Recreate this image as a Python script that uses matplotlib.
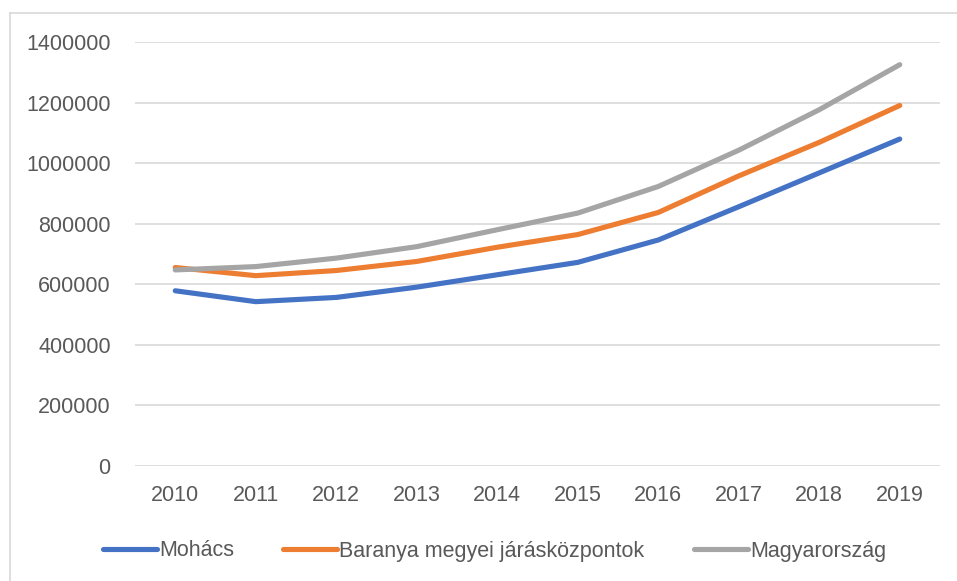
import matplotlib.pyplot as plt
from matplotlib.lines import Line2D

years = ['2010', '2011', '2012', '2013', '2014', '2015', '2016', '2017', '2018', '2019']
mohacs = [578000, 542000, 556000, 590000, 631000, 672000, 746000, 856000, 968000, 1080000]
baranya = [655000, 628000, 645000, 675000, 722000, 764000, 837000, 958000, 1069000, 1191000]
magyar = [647000, 658000, 686000, 724000, 780000, 835000, 923000, 1043000, 1177000, 1326000]
names = ['Mohács', 'Baranya megyei járásközpontok', 'Magyarország']
colors = ['#4472C4', '#ED7D31', '#A5A5A5']

plt.rcParams['font.family'] = ['Liberation Sans', 'DejaVu Sans']

W, H = 957, 581
fig = plt.figure(figsize=(W / 100, H / 100), dpi=100)
ax = fig.add_axes([135 / W, 1 - 465.5 / H, (940 - 135) / W, (465.5 - 42.3) / H])

x = range(len(years))
for vals, name, c in zip([mohacs, baranya, magyar], names, colors):
    ax.plot(x, vals, color=c, lw=3.7, solid_capstyle='round', label=name)

ax.set_xlim(-0.5, len(years) - 0.5)
ax.set_ylim(0, 1400000)
ax.set_yticks(range(0, 1400001, 200000))
ax.set_yticklabels([str(v) for v in range(0, 1400001, 200000)])
ax.set_xticks(list(x))
ax.set_xticklabels(years)
ax.grid(axis='y', color='#D9D9D9', lw=1.2)
ax.set_axisbelow(True)
for s in ax.spines.values():
    s.set_visible(False)
ax.tick_params(axis='both', length=0, labelsize=15.5, labelcolor='#595959')
ax.tick_params(axis='y', pad=17.5)
ax.tick_params(axis='x', pad=14)

leg = fig.legend(loc='center', bbox_to_anchor=(494.5 / W, 1 - 551 / H), ncol=3, frameon=False,
                 fontsize=15.5, handlelength=2.5, handletextpad=0.1, columnspacing=2.3,
                 labelcolor='#595959')
for h in leg.get_lines():
    h.set_linewidth(3.7)
    h.set_solid_capstyle('round')

# chart border (top and left only visible)
fig.add_artist(Line2D([9.5 / W, 1], [1 - 12.7 / H] * 2, color='#D9D9D9', lw=1.2))
fig.add_artist(Line2D([9.5 / W] * 2, [0, 1 - 12.7 / H], color='#D9D9D9', lw=1.2))

fig.savefig('out.png', dpi=100)
